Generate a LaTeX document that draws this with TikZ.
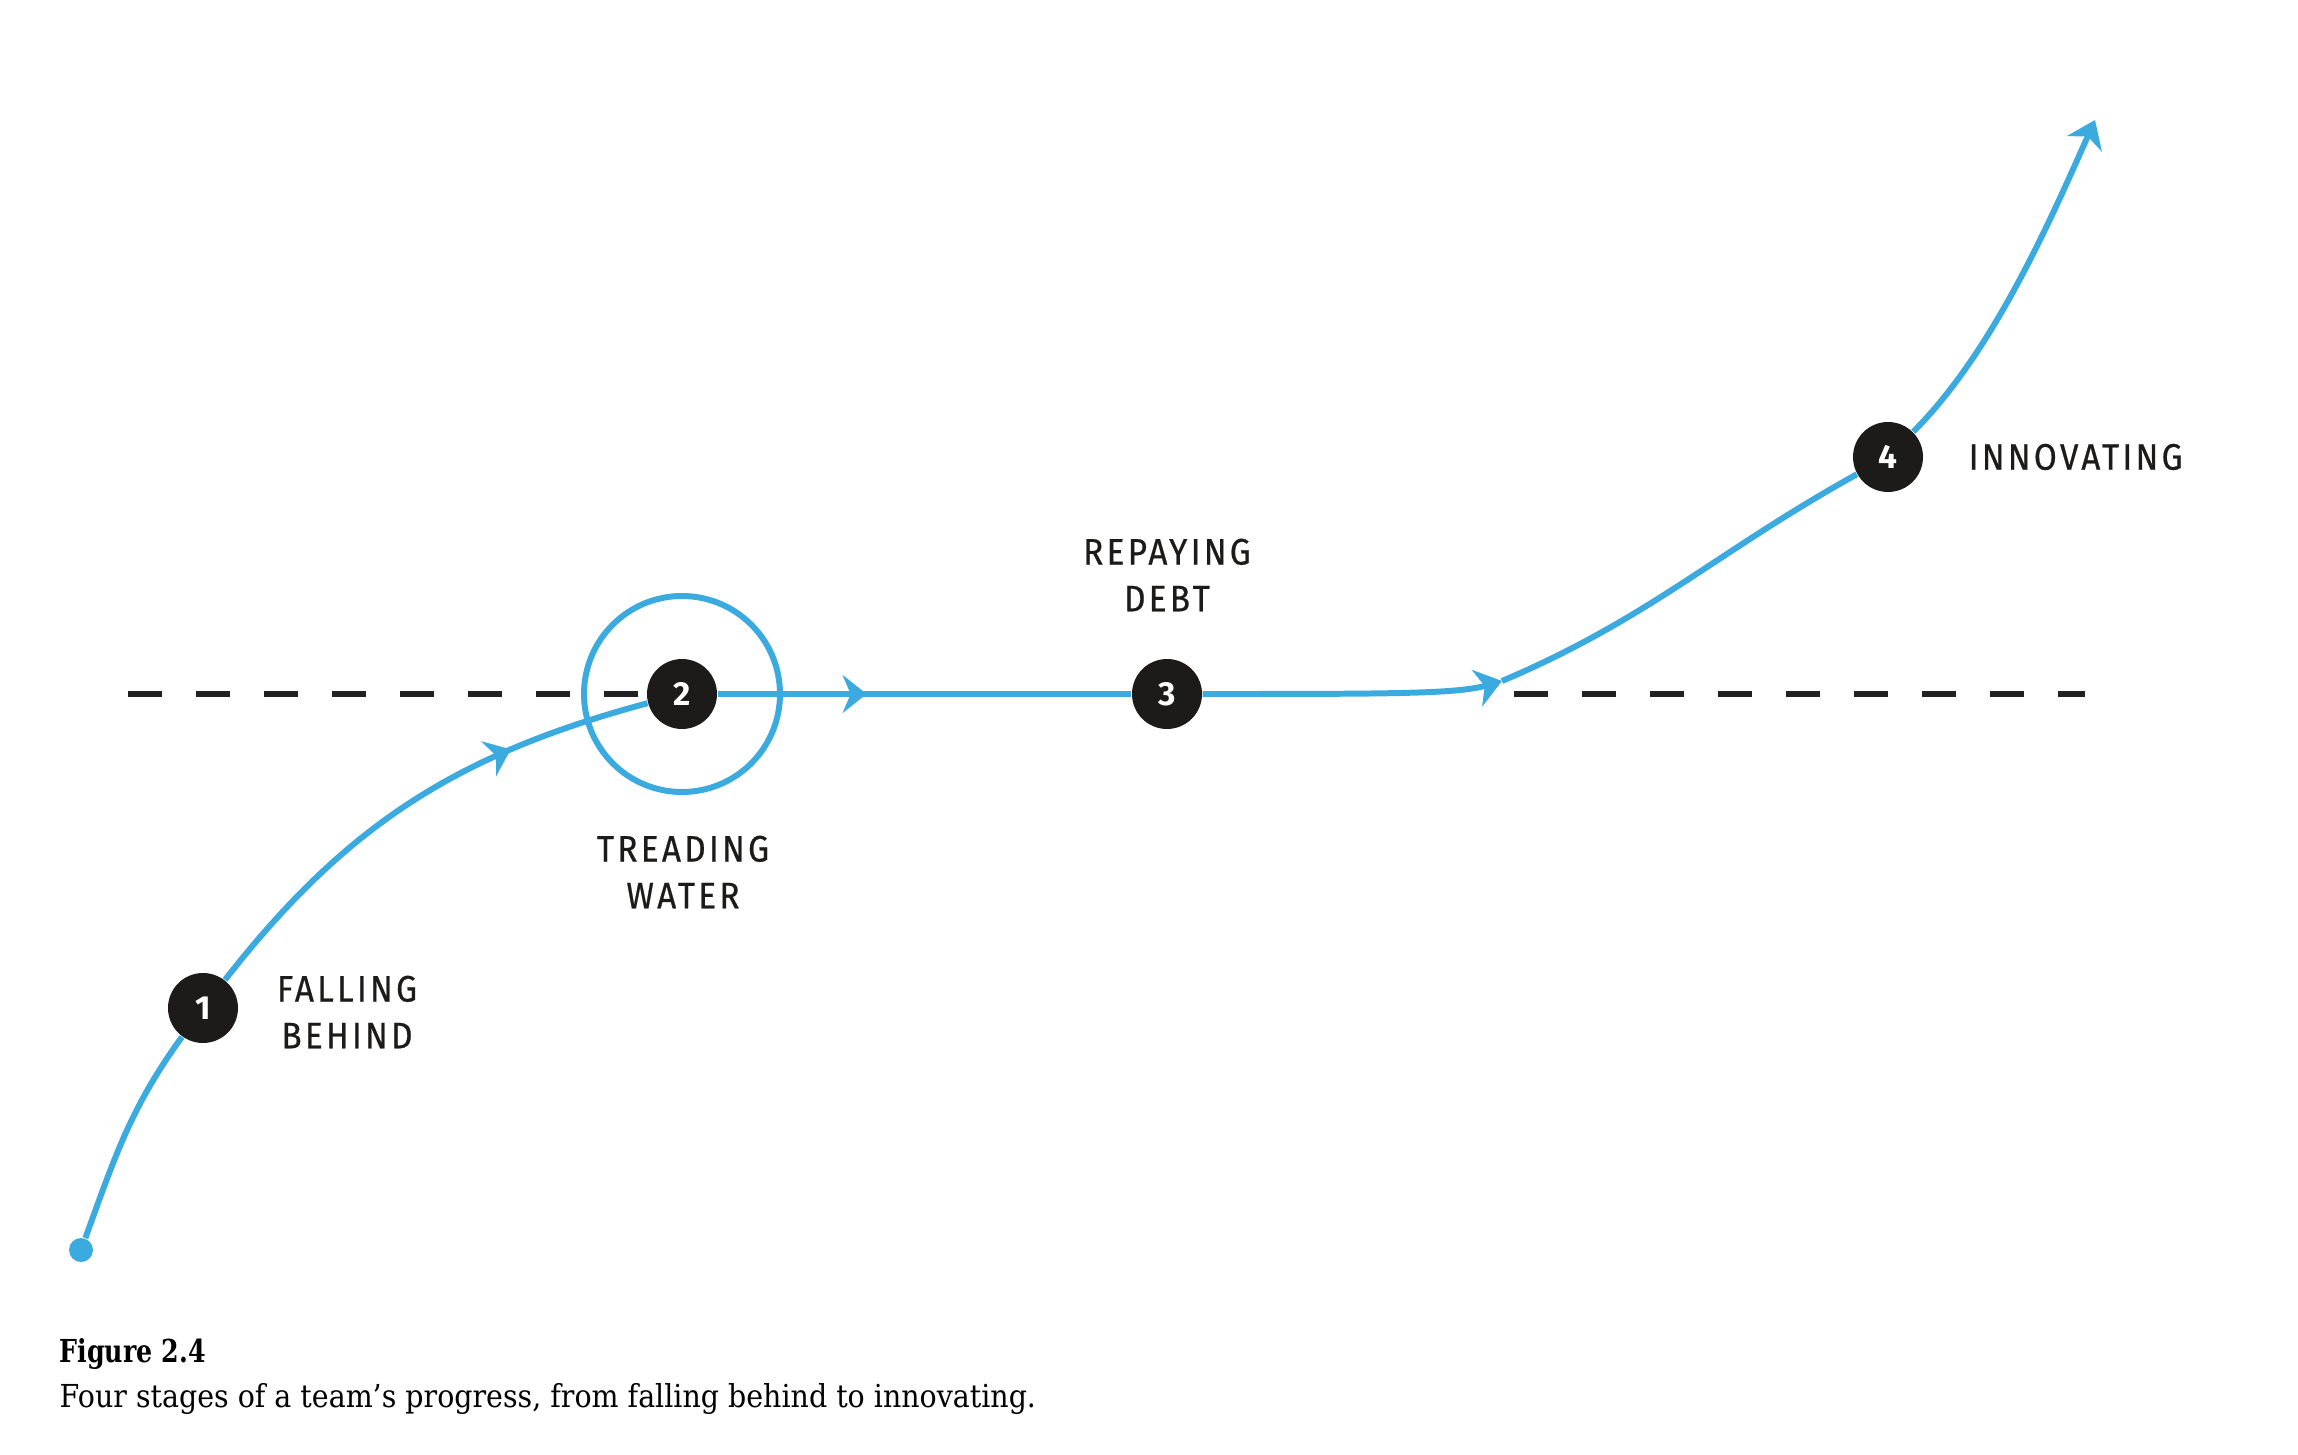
\documentclass[tikz,border=0pt]{standalone}
\usepackage{fontspec}
\setmainfont[FakeStretch=0.9]{DejaVu Serif}
\newfontfamily\stagefont[LetterSpace=9, FakeStretch=0.9, FakeBold=0.6]{Fira Sans}
\newfontfamily\numfont{Fira Sans}
\usepackage{xcolor}
\usepackage{tikz}
\definecolor{stageBlue}{HTML}{3AAADF}
\definecolor{stageInk}{HTML}{1C1B1A}
\definecolor{stageDash}{HTML}{222222}
\usetikzlibrary{arrows.meta,positioning,decorations.markings}

\begin{document}
\begin{tikzpicture}[
  flow/.style={draw=stageBlue, line width=1.7pt},
  tip/.style={-{Stealth[length=0.26cm, width=0.38cm, inset=0.08cm]}},
  midarrow/.style={postaction={decorate}, decoration={markings, mark=at position #1 with {\arrow{Stealth[length=0.24cm, width=0.38cm, inset=0.08cm]}}}},
  stage/.style={circle, fill=stageInk, text=white, minimum size=0.7cm, inner sep=0pt, font=\numfont\bfseries\fontsize{9.5}{9.5}\selectfont},
  stagelabel/.style={font=\stagefont\fontsize{10.5}{13.3}\selectfont, text=stageInk, align=center},
  level/.style={draw=stageDash, line width=1.6pt, dash pattern=on 0.34cm off 0.34cm}
]
\useasboundingbox (0,0) rectangle (22.98,14.54);

% Level line
\coordinate (levelL) at (1.28,7.60);
\coordinate (levelM) at (15.14,7.60);
\coordinate (levelR) at (20.85,7.60);

% Stages
\node[circle, fill=stageBlue, minimum size=0.24cm, inner sep=0pt] (origin) at (0.81,2.04) {};
\node[stage] (s1) at (2.03,4.46) {1};
\node[stage] (s2) at (6.82,7.60) {2};
\node[stage] (s3) at (11.67,7.60) {3};
\node[stage] (s4) at (18.88,9.97) {4};
\coordinate (bend) at (15.02,7.73);
\coordinate (top) at (20.95,13.34);
\node[circle, draw=stageBlue, line width=1.7pt, minimum size=1.96cm, inner sep=0pt] (ring) at (s2) {};

\node[stagelabel] (fall) at (3.47,4.42) {FALLING\\BEHIND};
\node[stagelabel] (tread) at (6.83,5.82) {TREADING\\WATER};
\node[stagelabel] (repay) at (11.67,8.79) {REPAYING\\DEBT};
\node[stagelabel, anchor=west, inner sep=0pt] (innov) at (19.68,9.97) {INNOVATING};

\draw[level] (levelL) -- (s2.west);
\draw[level] (levelM) -- (levelR);

% Progress curve
\draw[flow] (origin) to[out=70, in=234] (s1);
\draw[flow, midarrow=0.72] (s1) to[out=52, in=195] (s2);
\draw[flow, midarrow=0.36] (s2) -- (s3);
\draw[flow, tip] (s3) to[out=0, in=196, out looseness=1.6, in looseness=0.4] (bend);
\draw[flow] (bend) to[out=23, in=209] (s4);
\draw[flow, tip] (s4) to[out=45, in=246, looseness=0.8] (top);

% Caption
\node[anchor=base west, inner sep=0pt, font=\bfseries\addfontfeatures{FakeStretch=0.8}\fontsize{9}{11}\selectfont] (fig) at (0.59,0.92) {Figure 2.4};
\node[anchor=base west, inner sep=0pt, font=\fontsize{9}{11}\selectfont] (cap) at (0.59,0.47) {Four stages of a team’s progress, from falling behind to innovating.};
\end{tikzpicture}
\end{document}
